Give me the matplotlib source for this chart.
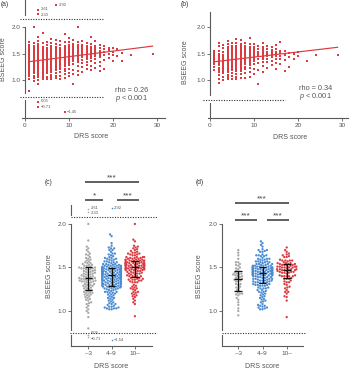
import numpy as np
import matplotlib
matplotlib.use("Agg")
import matplotlib.pyplot as plt
from matplotlib.lines import Line2D
import seaborn as sns

plt.rcParams['font.family'] = ['Liberation Sans', 'DejaVu Sans']
plt.rcParams['mathtext.fontset'] = 'custom'
plt.rcParams['mathtext.it'] = 'Liberation Sans:italic'
plt.rcParams['mathtext.rm'] = 'Liberation Sans'

# ------------------------------------------------------------------ data
# Panel (a): BSEEG score per DRS score (all patients)
a01 = [0.80, 1.02, 1.08, 1.12, 1.16, 1.19, 1.21, 1.24, 1.26, 1.28, 1.30, 1.32, 1.34, 1.35, 1.37,
       1.38, 1.40, 1.42, 1.44, 1.45, 1.47, 1.49, 1.50, 1.52, 1.54, 1.55, 1.58, 1.62, 1.66, 1.72]
a02 = [0.98, 1.04, 1.09, 1.13, 1.15, 1.18, 1.20, 1.22, 1.23, 1.25, 1.27, 1.29, 1.30, 1.31, 1.33,
       1.34, 1.35, 1.36, 1.37, 1.38, 1.39, 1.40, 1.41, 1.43, 1.44, 1.46, 1.47, 1.48, 1.49, 1.50,
       1.51, 1.53, 1.55, 1.57, 1.60, 1.64, 1.70, 2.00]
a03 = [0.93, 1.00, 1.06, 1.10, 1.14, 1.17, 1.19, 1.21, 1.22, 1.24, 1.26, 1.28, 1.29, 1.31, 1.33,
       1.34, 1.35, 1.36, 1.37, 1.38, 1.39, 1.41, 1.42, 1.43, 1.45, 1.46, 1.48, 1.49, 1.50, 1.52,
       1.53, 1.56, 1.59, 1.61, 1.65, 1.68, 1.74, 1.81]
a04 = [1.02, 1.03, 1.05, 1.08, 1.12, 1.16, 1.19, 1.22, 1.25, 1.27, 1.28, 1.30, 1.31, 1.33, 1.34,
       1.35, 1.37, 1.38, 1.39, 1.40, 1.41, 1.42, 1.43, 1.44, 1.45, 1.46, 1.47, 1.48, 1.49, 1.50,
       1.51, 1.52, 1.54, 1.56, 1.59, 1.63, 1.70, 1.88]
a05 = [1.03, 1.04, 1.07, 1.13, 1.18, 1.21, 1.24, 1.26, 1.28, 1.29, 1.31, 1.32, 1.34, 1.35, 1.36,
       1.38, 1.39, 1.40, 1.41, 1.42, 1.43, 1.44, 1.45, 1.46, 1.47, 1.48, 1.49, 1.50, 1.51, 1.53,
       1.55, 1.58, 1.61, 1.66, 1.72]
a06 = [1.02, 1.06, 1.10, 1.15, 1.19, 1.22, 1.25, 1.27, 1.29, 1.30, 1.32, 1.33, 1.35, 1.36, 1.37,
       1.38, 1.40, 1.41, 1.42, 1.43, 1.44, 1.45, 1.46, 1.47, 1.48, 1.49, 1.50, 1.51, 1.52, 1.54,
       1.57, 1.60, 1.64, 1.70, 1.78]
a07 = [1.04, 1.08, 1.14, 1.20, 1.23, 1.26, 1.28, 1.30, 1.31, 1.33, 1.35, 1.36, 1.38, 1.39, 1.40,
       1.41, 1.42, 1.43, 1.44, 1.45, 1.46, 1.47, 1.48, 1.49, 1.50, 1.52, 1.53, 1.56, 1.59, 1.62,
       1.68, 1.75]
a08 = [1.03, 1.09, 1.15, 1.21, 1.24, 1.27, 1.29, 1.31, 1.32, 1.34, 1.36, 1.37, 1.39, 1.40, 1.41,
       1.42, 1.43, 1.44, 1.45, 1.46, 1.47, 1.48, 1.49, 1.50, 1.52, 1.54, 1.57, 1.61, 1.66, 1.73]
a09 = [1.05, 1.11, 1.17, 1.22, 1.26, 1.28, 1.30, 1.32, 1.33, 1.35, 1.37, 1.38, 1.40, 1.41, 1.42,
       1.43, 1.44, 1.45, 1.46, 1.47, 1.48, 1.49, 1.50, 1.51, 1.53, 1.56, 1.60, 1.65, 1.72, 1.86]
a10 = [1.08, 1.14, 1.22, 1.28, 1.33, 1.37, 1.40, 1.43, 1.46, 1.48, 1.50, 1.52, 1.54, 1.55, 1.57,
       1.59, 1.62, 1.66, 1.72, 1.80]
a11 = [0.94, 1.12, 1.20, 1.30, 1.36, 1.40, 1.44, 1.47, 1.49, 1.51, 1.53, 1.55, 1.56, 1.58, 1.61,
       1.64, 1.69, 1.75]
a12 = [1.10, 1.18, 1.26, 1.34, 1.38, 1.42, 1.45, 1.48, 1.50, 1.52, 1.53, 1.55, 1.57, 1.59, 1.62,
       1.66, 1.71, 2.00]
a13 = [1.16, 1.25, 1.33, 1.39, 1.43, 1.47, 1.50, 1.52, 1.54, 1.56, 1.59, 1.62, 1.67, 1.74]
a14 = [1.21, 1.29, 1.35, 1.40, 1.44, 1.48, 1.50, 1.52, 1.54, 1.56, 1.58, 1.61, 1.65, 1.70]
a15 = [1.19, 1.27, 1.36, 1.41, 1.46, 1.49, 1.51, 1.53, 1.55, 1.58, 1.62, 1.68, 1.82]
a16 = [1.24, 1.33, 1.40, 1.45, 1.49, 1.52, 1.54, 1.57, 1.60, 1.65, 1.73]
a17 = [1.17, 1.26, 1.35, 1.43, 1.48, 1.52, 1.55, 1.60, 1.67]
a18 = [1.22, 1.38, 1.47, 1.53, 1.58, 1.64]
a19 = [1.42, 1.50, 1.56, 1.61]
a20 = [1.36, 1.47, 1.54, 1.60]
a21 = [1.45, 1.58]
a22 = [1.37, 1.52]
a24 = [1.48]
a29 = [1.49]
a_outlier_drs = [3, 3, 7, 3, 3, 9]
a_outlier_val = [2.61, 2.30, 2.92, 0.05, -0.71, -1.45]
fit_a = (1.34, 0.0104)      # intercept, slope of the regression line
rho_a = "0.26"

# Panel (b): subset of patients
b01 = [1.20, 1.26, 1.30, 1.34, 1.37, 1.40, 1.43, 1.46, 1.49, 1.52, 1.54, 1.56]
b02 = [0.95, 1.03, 1.10, 1.15, 1.19, 1.21, 1.24, 1.28, 1.31, 1.34, 1.36, 1.38, 1.40, 1.42, 1.43,
       1.45, 1.50, 1.56, 1.64, 1.70]
b03 = [1.00, 1.07, 1.13, 1.18, 1.20, 1.23, 1.27, 1.31, 1.35, 1.37, 1.39, 1.41, 1.42, 1.44, 1.48,
       1.53, 1.60, 1.67]
b04 = [1.02, 1.04, 1.06, 1.10, 1.15, 1.20, 1.24, 1.27, 1.30, 1.32, 1.34, 1.36, 1.38, 1.40, 1.41,
       1.42, 1.43, 1.44, 1.45, 1.46, 1.47, 1.48, 1.49, 1.50, 1.51, 1.52, 1.54, 1.56, 1.59, 1.63,
       1.68, 1.74]
b05 = [1.03, 1.08, 1.13, 1.19, 1.23, 1.27, 1.30, 1.32, 1.34, 1.36, 1.38, 1.40, 1.41, 1.42, 1.43,
       1.44, 1.45, 1.46, 1.47, 1.48, 1.49, 1.50, 1.51, 1.52, 1.54, 1.56, 1.58, 1.61, 1.65, 1.71]
b06 = [1.02, 1.07, 1.12, 1.18, 1.22, 1.26, 1.29, 1.31, 1.33, 1.35, 1.37, 1.39, 1.41, 1.42, 1.43,
       1.44, 1.45, 1.46, 1.47, 1.48, 1.49, 1.50, 1.51, 1.53, 1.55, 1.57, 1.60, 1.64, 1.70, 1.78]
b07 = [1.05, 1.11, 1.17, 1.22, 1.26, 1.29, 1.31, 1.33, 1.35, 1.37, 1.39, 1.41, 1.42, 1.43, 1.44,
       1.45, 1.46, 1.47, 1.48, 1.49, 1.50, 1.52, 1.54, 1.57, 1.60, 1.64, 1.69, 1.76]
b08 = [1.04, 1.14, 1.21, 1.26, 1.30, 1.33, 1.35, 1.37, 1.39, 1.41, 1.42, 1.43, 1.44, 1.45, 1.46,
       1.47, 1.48, 1.49, 1.50, 1.52, 1.54, 1.57, 1.60, 1.64, 1.70]
b09 = [1.06, 1.16, 1.24, 1.29, 1.32, 1.35, 1.37, 1.39, 1.41, 1.42, 1.43, 1.44, 1.45, 1.46, 1.47,
       1.48, 1.49, 1.50, 1.51, 1.53, 1.56, 1.59, 1.63, 1.68, 1.80]
b10 = [1.12, 1.22, 1.31, 1.37, 1.41, 1.44, 1.47, 1.49, 1.51, 1.53, 1.55, 1.58, 1.62, 1.68]
b11 = [0.93, 1.20, 1.33, 1.40, 1.45, 1.48, 1.51, 1.54, 1.58, 1.64]
b12 = [1.16, 1.27, 1.35, 1.40, 1.44, 1.47, 1.50, 1.52, 1.55, 1.58, 1.63, 1.70]
b13 = [1.24, 1.34, 1.40, 1.45, 1.48, 1.51, 1.54, 1.58, 1.65]
b14 = [1.28, 1.37, 1.43, 1.47, 1.50, 1.53, 1.57, 1.62]
b15 = [1.22, 1.33, 1.41, 1.46, 1.50, 1.54, 1.59, 1.66]
b16 = [1.30, 1.40, 1.46, 1.51, 1.56, 1.73]
b17 = [1.17, 1.38, 1.47, 1.55]
b18 = [1.26, 1.44, 1.52]
b19 = [1.40, 1.50]
b20 = [1.45, 1.53]
b22 = [1.37]
b24 = [1.48]
b29 = [1.48]
fit_b = (1.34, 0.0097)
rho_b = "0.34"
p_text = "< 0.001"

# Panels (c)/(d): grouping of DRS score
cat_labels = ["\u20133", "4\u20139", "10\u2013"]
cat_upper = [3, 9]                     # DRS <= 3, 4-9, >= 10
c_outlier_cat = [0, 0, 1, 0, 0, 1]
c_outlier_val = [2.61, 2.30, 2.92, 0.05, -0.71, -1.54]
sig_c = ["***", "*", "***"]            # (0 vs 2), (0 vs 1), (1 vs 2)
sig_d = ["***", "***", "***"]

cols_a = {1: a01, 2: a02, 3: a03, 4: a04, 5: a05, 6: a06, 7: a07, 8: a08, 9: a09, 10: a10,
          11: a11, 12: a12, 13: a13, 14: a14, 15: a15, 16: a16, 17: a17, 18: a18, 19: a19,
          20: a20, 21: a21, 22: a22, 24: a24, 29: a29}
cols_b = {1: b01, 2: b02, 3: b03, 4: b04, 5: b05, 6: b06, 7: b07, 8: b08, 9: b09, 10: b10,
          11: b11, 12: b12, 13: b13, 14: b14, 15: b15, 16: b16, 17: b17, 18: b18, 19: b19,
          20: b20, 22: b22, 24: b24, 29: b29}

# ------------------------------------------------------------------ style
RED = '#db3a40'
BLUE = '#4a8bd2'
GRAY = '#a8a8a8'
TXT = '#555555'
AXC = '#5a5a5a'
DOT = '#333333'
GROUP_COLORS = [GRAY, BLUE, RED]

W, H = 350, 372
fig = plt.figure(figsize=(W / 100, H / 100), dpi=100)


def fx(px):
    return px / W


def fy(py):
    return 1 - py / H


def add_ax(x0, x1, y0, y1):
    return fig.add_axes([fx(x0), fy(y1), (x1 - x0) / W, (y1 - y0) / H])


def fline(x0, x1, y0, y1, **kw):
    fig.add_artist(Line2D([fx(x0), fx(x1)], [fy(y0), fy(y1)],
                          transform=fig.transFigure, **kw))


def ftext(px, py, s, **kw):
    kw.setdefault('color', TXT)
    fig.text(fx(px), fy(py), s, **kw)


def piecewise(V, P):
    V = np.asarray(V, float)
    Q = -np.asarray(P, float)

    def _map(x, xs, ys):
        x = np.asarray(x, float)
        y = np.interp(x, xs, ys)
        s0 = (ys[1] - ys[0]) / (xs[1] - xs[0])
        s1 = (ys[-1] - ys[-2]) / (xs[-1] - xs[-2])
        y = np.where(x < xs[0], ys[0] + (x - xs[0]) * s0, y)
        y = np.where(x > xs[-1], ys[-1] + (x - xs[-1]) * s1, y)
        return y

    return (lambda v: _map(v, V, Q)), (lambda q: _map(q, Q, V))


def style(ax, V, P, xlim, spine_x):
    fwd, inv = piecewise(V, P)
    ax.set_yscale('function', functions=(fwd, inv))
    ax.set_ylim(V[0], V[-1])
    ax.set_xlim(*xlim)
    for s in ['top', 'right']:
        ax.spines[s].set_visible(False)
    ax.spines['left'].set_position(('data', spine_x))
    ax.spines['left'].set_visible(False)
    ax.spines['bottom'].set_color(AXC)
    ax.spines['bottom'].set_linewidth(0.8)
    ax.set_yticks([1.0, 1.5, 2.0])
    ax.set_yticklabels(['1.0', '1.5', '2.0'])
    ax.tick_params(axis='y', length=2.5, width=0.6, color=AXC, labelsize=4.6,
                   labelcolor=TXT, pad=1)
    ax.tick_params(axis='x', length=2, width=0.6, color=AXC, labelsize=4.6,
                   labelcolor=TXT, pad=1.5)
    ax.patch.set_visible(False)
    ax.set_xlabel('')
    ax.set_ylabel('')


def spine_segments(xpx, segs):
    for y0, y1 in segs:
        fline(xpx, xpx, y0, y1, color=AXC, lw=0.8)


def dotted(x0, x1, y):
    fline(x0, x1, y, y, color=DOT, lw=0.8, linestyle=(0, (1, 1.3)))


def fmt(v):
    return f"{v:.2f}".replace('-', '\u2212')


def outlier_labels(ax, xs, vals, nudges):
    for x, v, n in zip(xs, vals, nudges):
        ax.annotate(fmt(v), (x, v), xytext=(2.5, n), textcoords='offset pixels',
                    fontsize=3.0, color=TXT, va='center', ha='left')


# ------------------------------------------------------------------ scatter panels
def scatter_panel(ax, cols, fit):
    xs = np.concatenate([[d] * len(v) for d, v in cols.items()])
    ys = np.concatenate([v for v in cols.values()])
    ax.scatter(xs, ys, s=0.55, marker='s', color=RED, linewidths=0, zorder=2)
    xl = np.array([min(cols), max(cols)], float)
    ax.plot(xl, fit[0] + fit[1] * xl, color=RED, lw=0.85, zorder=3)
    ax.set_xticks([0, 10, 20, 30])


# (a)
V_A = [-2.32, 0.68, 2.15, 2.25, 3.28]
P_A = [118, 97.4, 19, 15, 0]
axa = add_ax(22, 165, 0, 118)
scatter_panel(axa, cols_a, fit_a)
axa.scatter(a_outlier_drs, a_outlier_val, s=0.7, marker='s', color=RED, linewidths=0)
outlier_labels(axa, a_outlier_drs, a_outlier_val, [0.5, -0.5, 0, 0.5, -0.5, 0])
style(axa, V_A, P_A, ((22 - 25) / 4.4, (165 - 25) / 4.4), 0)
spine_segments(25, [(0, 15), (27, 93), (100, 118)])
dotted(20, 103, 19)
dotted(20, 103, 97.4)
ftext(115, 90.5, f"rho = {rho_a}", fontsize=5.3, va='center', ha='left')
ftext(115, 99, r"$\it{p}$ " + p_text, fontsize=5.3, va='center', ha='left')

# (b)
V_B = [-2.05, 0.64, 2.51]
P_B = [118, 99.5, 0]
axb = add_ax(208, 348, 0, 118)
scatter_panel(axb, cols_b, fit_b)
style(axb, V_B, P_B, ((208 - 210) / 4.4, (348 - 210) / 4.4), 0)
spine_segments(210, [(12, 95), (103, 118)])
dotted(203, 285, 99.5)
ftext(299, 88, f"rho = {rho_b}", fontsize=5.3, va='center', ha='left')
ftext(299, 97, r"$\it{p}$ " + p_text, fontsize=5.3, va='center', ha='left')


# ------------------------------------------------------------------ swarm panels
def group_values(cols):
    groups = [[], [], []]
    for d, v in cols.items():
        g = 0 if d <= cat_upper[0] else (1 if d <= cat_upper[1] else 2)
        groups[g].extend(v)
    return groups


def swarm_panel(ax, groups, extra=None):
    cats, vals = [], []
    for i, g in enumerate(groups):
        cats += [cat_labels[i]] * len(g)
        vals += list(g)
    sns.swarmplot(x=cats, y=vals, order=cat_labels, hue=cats, hue_order=cat_labels,
                  palette=GROUP_COLORS, size=1.65, linewidth=0, legend=False, ax=ax,
                  zorder=2)
    for i, g in enumerate(groups):
        allv = list(g)
        if extra is not None:
            allv += [v for c, v in zip(*extra) if c == i]
        q1, med, q3 = np.percentile(allv, [25, 50, 75])
        ax.vlines(i, q1, q3, color='#111111', lw=0.9, zorder=5)
        ax.hlines([q1, med, q3], i - 0.16, i + 0.16, color='#111111', lw=0.9, zorder=5)
    ax.set_xticks([0, 1, 2])
    ax.set_xticklabels(cat_labels)


V_C = [-3.28, 0.753, 2.08, 2.30, 2.61, 3.5]
P_C = [346, 332.5, 217, 212, 209, 205]

# (c)
axc = add_ax(71, 152, 205, 346)
swarm_panel(axc, group_values(cols_a), (c_outlier_cat, c_outlier_val))
for c, v in zip(c_outlier_cat, c_outlier_val):
    axc.scatter([c], [v], s=1.3, color=GROUP_COLORS[c], linewidths=0, zorder=3)
outlier_labels(axc, c_outlier_cat, c_outlier_val, [1.4, -1.4, 0, 1.6, -1.6, 0])
xl_c = ((71 - 88.3) / 23.3, (152 - 88.3) / 23.3)
style(axc, V_C, P_C, xl_c, xl_c[0])
spine_segments(71, [(205, 215), (224, 329.5), (335, 346)])
dotted(71, 157, 217)
dotted(70, 157, 332.5)

# (d)
axd = add_ax(222, 303, 205, 346)
swarm_panel(axd, group_values(cols_b))
xl_d = ((222 - 238.3) / 24.2, (303 - 238.3) / 24.2)
style(axd, V_C, P_C, xl_d, xl_d[0])
spine_segments(222, [(224, 329.5), (335, 346)])
dotted(222, 305, 332.5)


# significance bars
def sig_bars(top, left, right, y_top, y_low, labels):
    kw = dict(color='#444444', lw=1.2, solid_capstyle='butt')
    fline(top[0], top[1], y_top, y_top, **kw)
    fline(left[0], left[1], y_low, y_low, **kw)
    fline(right[0], right[1], y_low, y_low, **kw)
    for (x0, x1), y, s in zip([top, left, right], [y_top, y_low, y_low], labels):
        ftext((x0 + x1) / 2, y - 2.2, s, fontsize=6, ha='center', va='baseline',
              color='#444444')


sig_bars((85, 139.3), (85, 103.3), (116.7, 139.3), 182, 200, sig_c)
sig_bars((235, 289.3), (235, 257.3), (266.7, 289.3), 202.7, 220, sig_d)

# ------------------------------------------------------------------ labels
for px, py, s in [(1, 5, '(a)'), (181, 5, '(b)'), (45, 183, '(c)'), (196, 182, '(d)')]:
    ftext(px, py, s, fontsize=4.8, ha='left', va='center', color='#333333')
for px, py in [(4, 59), (185.5, 62), (49, 276), (199.5, 276)]:
    ftext(px, py, 'BSEEG score', fontsize=5, rotation=90, ha='center', va='center')
for px, py in [(91, 137), (290, 137.5), (111.6, 367), (262.5, 367)]:
    ftext(px, py, 'DRS score', fontsize=5, ha='center', va='center')

fig.savefig('out.png', dpi=100)
